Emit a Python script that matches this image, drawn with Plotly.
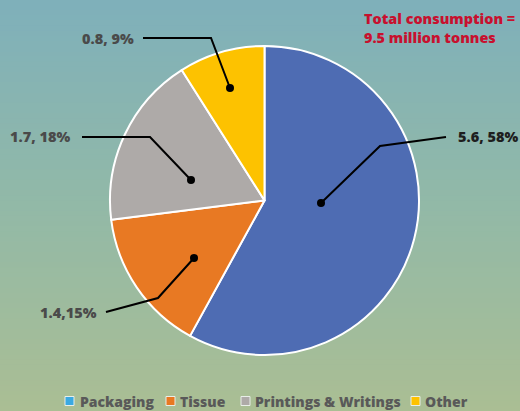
import plotly.graph_objects as go

# Paper consumption by grade (million tonnes and share of total)
categories = ["Packaging", "Tissue", "Printings & Writings", "Other"]
volumes = [5.6, 1.4, 1.7, 0.8]
shares = [58, 15, 18, 9]
label_texts = ["5.6, 58%", "1.4,15%", "1.7, 18%", "0.8, 9%"]
total_text = "Total consumption =<br>9.5 million tonnes"

slice_colors = ["#4E6CB3", "#E87923", "#AEAAA8", "#FDC200"]
legend_colors = ["#3AA9E2", "#E87923", "#AEAAA8", "#FDC200"]

W, H = 520, 411
FONT = "Open Sans"


def px(x):
    return x / W


def py(y):
    return 1 - y / H


fig = go.Figure()

fig.add_trace(go.Pie(
    labels=categories,
    values=shares,
    sort=False,
    direction="clockwise",
    rotation=0,
    marker=dict(colors=slice_colors, line=dict(color="white", width=2)),
    textinfo="none",
    hoverinfo="label+value",
    showlegend=False,
    domain=dict(x=[px(110), px(419)], y=[py(355), py(46)]),
))

shapes = []

# vertical gradient background, teal at top fading to sage green
top = (127, 176, 186)
mid = (146, 185, 167)
bot = (170, 190, 148)
n_bands = 80
for i in range(n_bands):
    t = i / (n_bands - 1)
    if t < 0.5:
        a, b, u = top, mid, t / 0.5
    else:
        a, b, u = mid, bot, (t - 0.5) / 0.5
    c = tuple(round(a[k] + (b[k] - a[k]) * u) for k in range(3))
    shapes.append(dict(
        type="rect", xref="paper", yref="paper", layer="below",
        x0=0, x1=1, y0=1 - (i + 1) / n_bands - 0.002, y1=1 - i / n_bands,
        fillcolor="rgb(%d,%d,%d)" % c, line=dict(width=0),
    ))

# leader lines: label text position, polyline points, end dot
leaders = [
    dict(text=label_texts[0], tx=488, ty=137, color="#1E1E1E",
         pts=[(446, 137), (380, 146), (321, 203)]),
    dict(text=label_texts[1], tx=68, ty=312, color="#4A4A4A",
         pts=[(106, 312), (158, 298), (194, 258)]),
    dict(text=label_texts[2], tx=40, ty=137, color="#4A4A4A",
         pts=[(82, 137), (150, 137), (191, 180)]),
    dict(text=label_texts[3], tx=108, ty=38, color="#4A4A4A",
         pts=[(143, 38), (211, 38), (230, 88)]),
]

annotations = []
for ld in leaders:
    pts = ld["pts"]
    path = "M " + " L ".join("%.4f,%.4f" % (px(x), py(y)) for x, y in pts)
    shapes.append(dict(type="path", xref="paper", yref="paper", path=path,
                       line=dict(color="black", width=2)))
    dx, dy = pts[-1]
    r = 4
    shapes.append(dict(type="circle", xref="paper", yref="paper",
                       x0=px(dx - r), x1=px(dx + r), y0=py(dy + r), y1=py(dy - r),
                       fillcolor="black", line=dict(color="black", width=0)))
    annotations.append(dict(
        text=ld["text"], x=px(ld["tx"]), y=py(ld["ty"]),
        xref="paper", yref="paper", showarrow=False,
        xanchor="center", yanchor="middle",
        font=dict(family=FONT, size=14.5, weight=800, color=ld["color"]),
    ))

annotations.append(dict(
    text=total_text, x=px(362), y=py(7),
    xref="paper", yref="paper", showarrow=False, align="left",
    xanchor="left", yanchor="top",
    font=dict(family=FONT, size=14.4, weight=800, color="#C8102E"),
))

# legend drawn as swatches and labels along the bottom
legend_x = [(65, 78), (166, 178), (241, 253), (411, 423)]
ly = 401
for (sx, tx), name, col in zip(legend_x, categories, legend_colors):
    shapes.append(dict(type="rect", xref="paper", yref="paper",
                       x0=px(sx), x1=px(sx + 9), y0=py(ly + 4.5), y1=py(ly - 4.5),
                       fillcolor=col, line=dict(color="#E8EEE8", width=1)))
    annotations.append(dict(
        text=name, x=px(tx), y=py(ly),
        xref="paper", yref="paper", showarrow=False,
        xanchor="left", yanchor="middle",
        font=dict(family=FONT, size=14, weight=800, color="#595959"),
    ))

fig.update_layout(
    width=W, height=H,
    margin=dict(l=0, r=0, t=0, b=0),
    paper_bgcolor="rgb(146,185,167)",
    plot_bgcolor="rgba(0,0,0,0)",
    shapes=shapes,
    annotations=annotations,
    showlegend=False,
)

fig.write_html("out.html")
